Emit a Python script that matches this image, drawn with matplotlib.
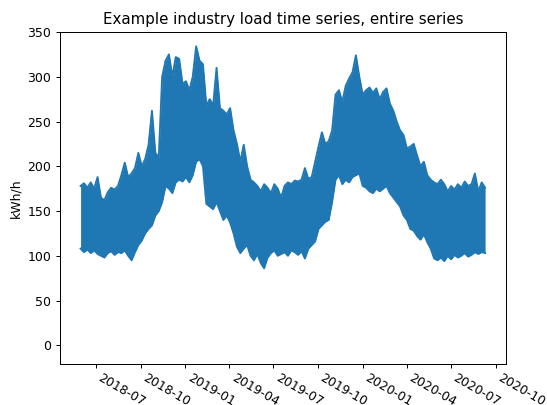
import numpy as np
import pandas as pd
import matplotlib
matplotlib.use("Agg")
import matplotlib.pyplot as plt
import matplotlib.dates as mdates

# weekly envelope of the hourly load
start = "2018-05-30"
weekly_high = [178, 181, 176, 182, 175, 188, 165, 162, 171, 176,
               174, 178, 190, 204, 188, 192, 198, 215, 200, 208,
               224, 262, 215, 210, 300, 318, 325, 300, 322, 320,
               292, 295, 285, 300, 334, 318, 314, 268, 275, 268,
               310, 265, 262, 258, 265, 240, 225, 205, 224, 200,
               185, 182, 178, 172, 180, 176, 170, 180, 175, 165,
               178, 182, 180, 184, 183, 185, 198, 186, 188, 205,
               222, 238, 225, 228, 240, 280, 285, 272, 290, 298,
               305, 324, 300, 280, 285, 288, 282, 287, 275, 283,
               287, 270, 262, 250, 240, 235, 220, 222, 225, 212,
               200, 205, 190, 185, 182, 180, 185, 180, 172, 178,
               174, 180, 176, 183, 178, 180, 192, 172, 182, 176]
weekly_low = [108, 104, 107, 103, 106, 102, 100, 98, 103, 105,
              101, 104, 103, 106, 100, 95, 104, 112, 117, 125,
              130, 134, 145, 150, 160, 178, 175, 170, 182, 185,
              183, 188, 182, 190, 205, 208, 200, 158, 155, 152,
              160, 150, 140, 145, 137, 125, 110, 103, 108, 112,
              100, 95, 102, 92, 86, 98, 103, 106, 100, 102,
              104, 100, 106, 104, 101, 105, 97, 108, 112, 116,
              130, 134, 138, 140, 160, 185, 190, 180, 185, 182,
              188, 190, 192, 178, 176, 172, 170, 175, 172, 175,
              178, 170, 165, 160, 155, 145, 140, 130, 128, 122,
              118, 124, 115, 108, 97, 95, 98, 94, 100, 96,
              101, 98, 100, 103, 99, 101, 104, 102, 104, 103]

dates = pd.date_range(start, periods=len(weekly_high), freq="7D")

fig, ax = plt.subplots(figsize=(547 / 90, 405 / 90), dpi=90)
fig.subplots_adjust(left=0.11, right=0.925, top=0.921, bottom=0.101)

ax.fill_between(dates, weekly_low, weekly_high, color="C0", lw=0)
ax.plot(dates, weekly_high, color="C0", lw=1.5)
ax.plot(dates, weekly_low, color="C0", lw=1.5)

ax.set_title("Example industry load time series, entire series")
ax.set_ylabel("kWh/h")
ax.set_ylim(-21, 350)
ax.set_xlim(pd.Timestamp("2018-04-18"), pd.Timestamp("2020-10-22"))
ax.xaxis.set_major_locator(mdates.MonthLocator(bymonth=[1, 4, 7, 10]))
ax.xaxis.set_major_formatter(mdates.DateFormatter("%Y-%m"))
ax.tick_params(axis="x", pad=2)
for lab in ax.get_xticklabels():
    lab.set_rotation(-30)
    lab.set_ha("left")

fig.savefig("out.png", dpi=90)
